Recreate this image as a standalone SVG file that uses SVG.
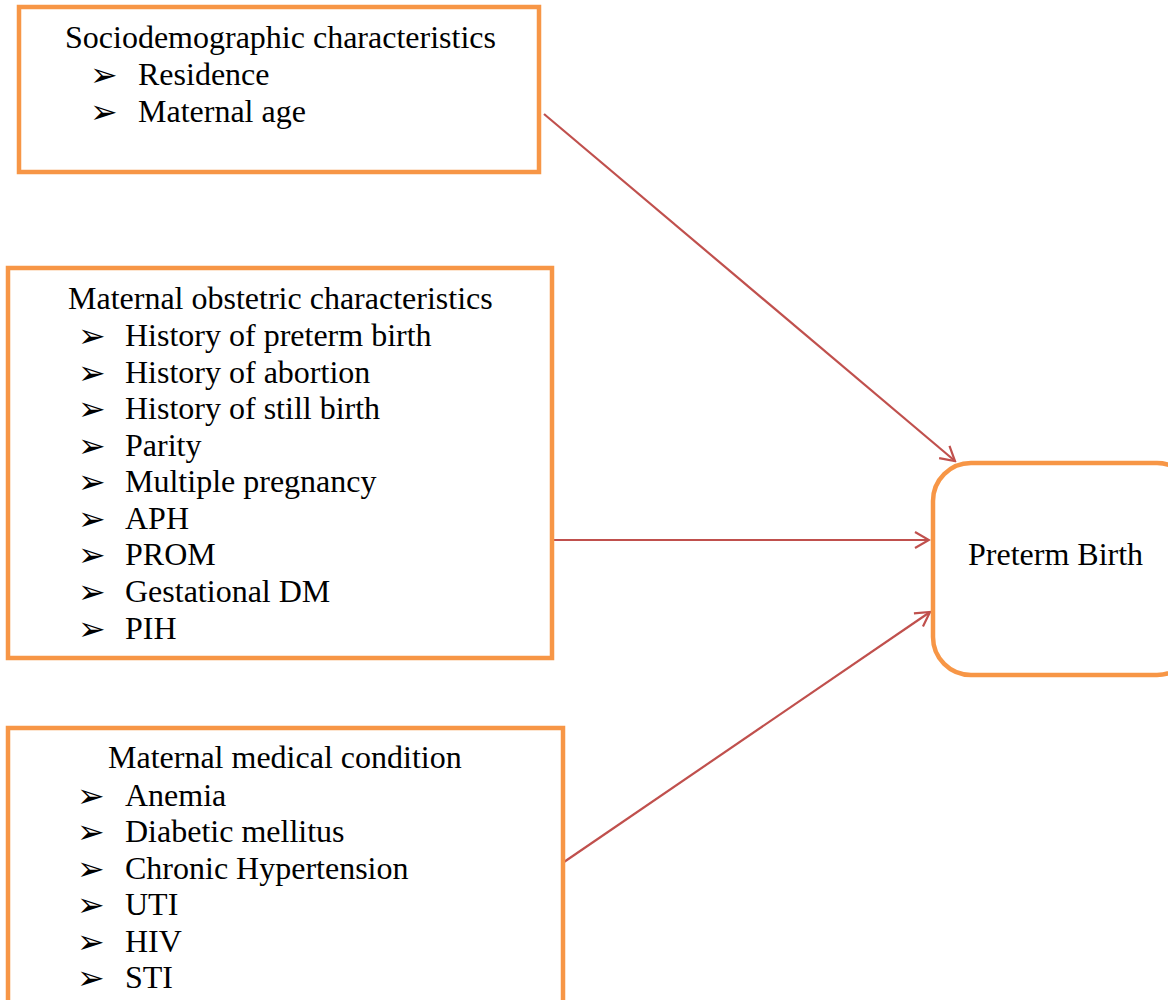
<svg xmlns="http://www.w3.org/2000/svg" width="1168" height="1000" viewBox="0 0 1168 1000">
<style>
.box{fill:#fff;stroke:#F79646;stroke-width:4.5}
.t{font-family:"Liberation Serif","Times New Roman",serif;font-size:32px;fill:#000}
.b{font-family:"DejaVu Sans",sans-serif;font-size:33px;fill:#000}
.c{stroke:#C0504D;stroke-width:2.2;fill:none}
</style>
<defs>
<marker id="ah" markerUnits="userSpaceOnUse" markerWidth="20" markerHeight="20" viewBox="0 0 20 20" refX="18" refY="10" orient="auto">
<path d="M4,2 L18,10 L4,18" fill="none" stroke="#C0504D" stroke-width="2.2"/>
</marker>
</defs>
<rect width="1168" height="1000" fill="#fff"/>
<g id="connectors">
<line class="c" x1="544" y1="114" x2="955" y2="461" marker-end="url(#ah)"/>
<line class="c" x1="552" y1="540" x2="929" y2="540" marker-end="url(#ah)"/>
<line class="c" x1="564" y1="862" x2="930" y2="612" marker-end="url(#ah)"/>
</g>
<g id="socio">
<rect class="box" x="19" y="7" width="520" height="165"/>
<text class="t" x="65" y="48">Sociodemographic characteristics</text>
<text class="b" x="90" y="86">➢</text><text class="t" x="138" y="85">Residence</text>
<text class="b" x="90" y="123">➢</text><text class="t" x="138" y="122">Maternal age</text>
</g>
<g id="obstetric">
<rect class="box" x="8" y="268" width="544" height="390"/>
<text class="t" x="68" y="309">Maternal obstetric characteristics</text>
<text class="b" x="78" y="347">➢</text><text class="t" x="125" y="346">History of preterm birth</text>
<text class="b" x="78" y="384">➢</text><text class="t" x="125" y="383">History of abortion</text>
<text class="b" x="78" y="420">➢</text><text class="t" x="125" y="419">History of still birth</text>
<text class="b" x="78" y="457">➢</text><text class="t" x="125" y="456">Parity</text>
<text class="b" x="78" y="493">➢</text><text class="t" x="125" y="492">Multiple pregnancy</text>
<text class="b" x="78" y="530">➢</text><text class="t" x="125" y="529">APH</text>
<text class="b" x="78" y="566">➢</text><text class="t" x="125" y="565">PROM</text>
<text class="b" x="78" y="603">➢</text><text class="t" x="125" y="602">Gestational DM</text>
<text class="b" x="78" y="640">➢</text><text class="t" x="125" y="639">PIH</text>
</g>
<g id="medical">
<rect class="box" x="8" y="728" width="555" height="290"/>
<text class="t" x="108" y="768">Maternal medical condition</text>
<text class="b" x="77" y="807">➢</text><text class="t" x="125" y="806">Anemia</text>
<text class="b" x="77" y="843">➢</text><text class="t" x="125" y="842">Diabetic mellitus</text>
<text class="b" x="77" y="880">➢</text><text class="t" x="125" y="879">Chronic Hypertension</text>
<text class="b" x="77" y="916">➢</text><text class="t" x="125" y="915">UTI</text>
<text class="b" x="77" y="953">➢</text><text class="t" x="125" y="952">HIV</text>
<text class="b" x="77" y="989">➢</text><text class="t" x="125" y="988">STI</text>
</g>
<g id="preterm">
<rect class="box" x="933" y="463" width="262" height="212" rx="38"/>
<text class="t" x="968" y="565">Preterm Birth</text>
</g>
</svg>
